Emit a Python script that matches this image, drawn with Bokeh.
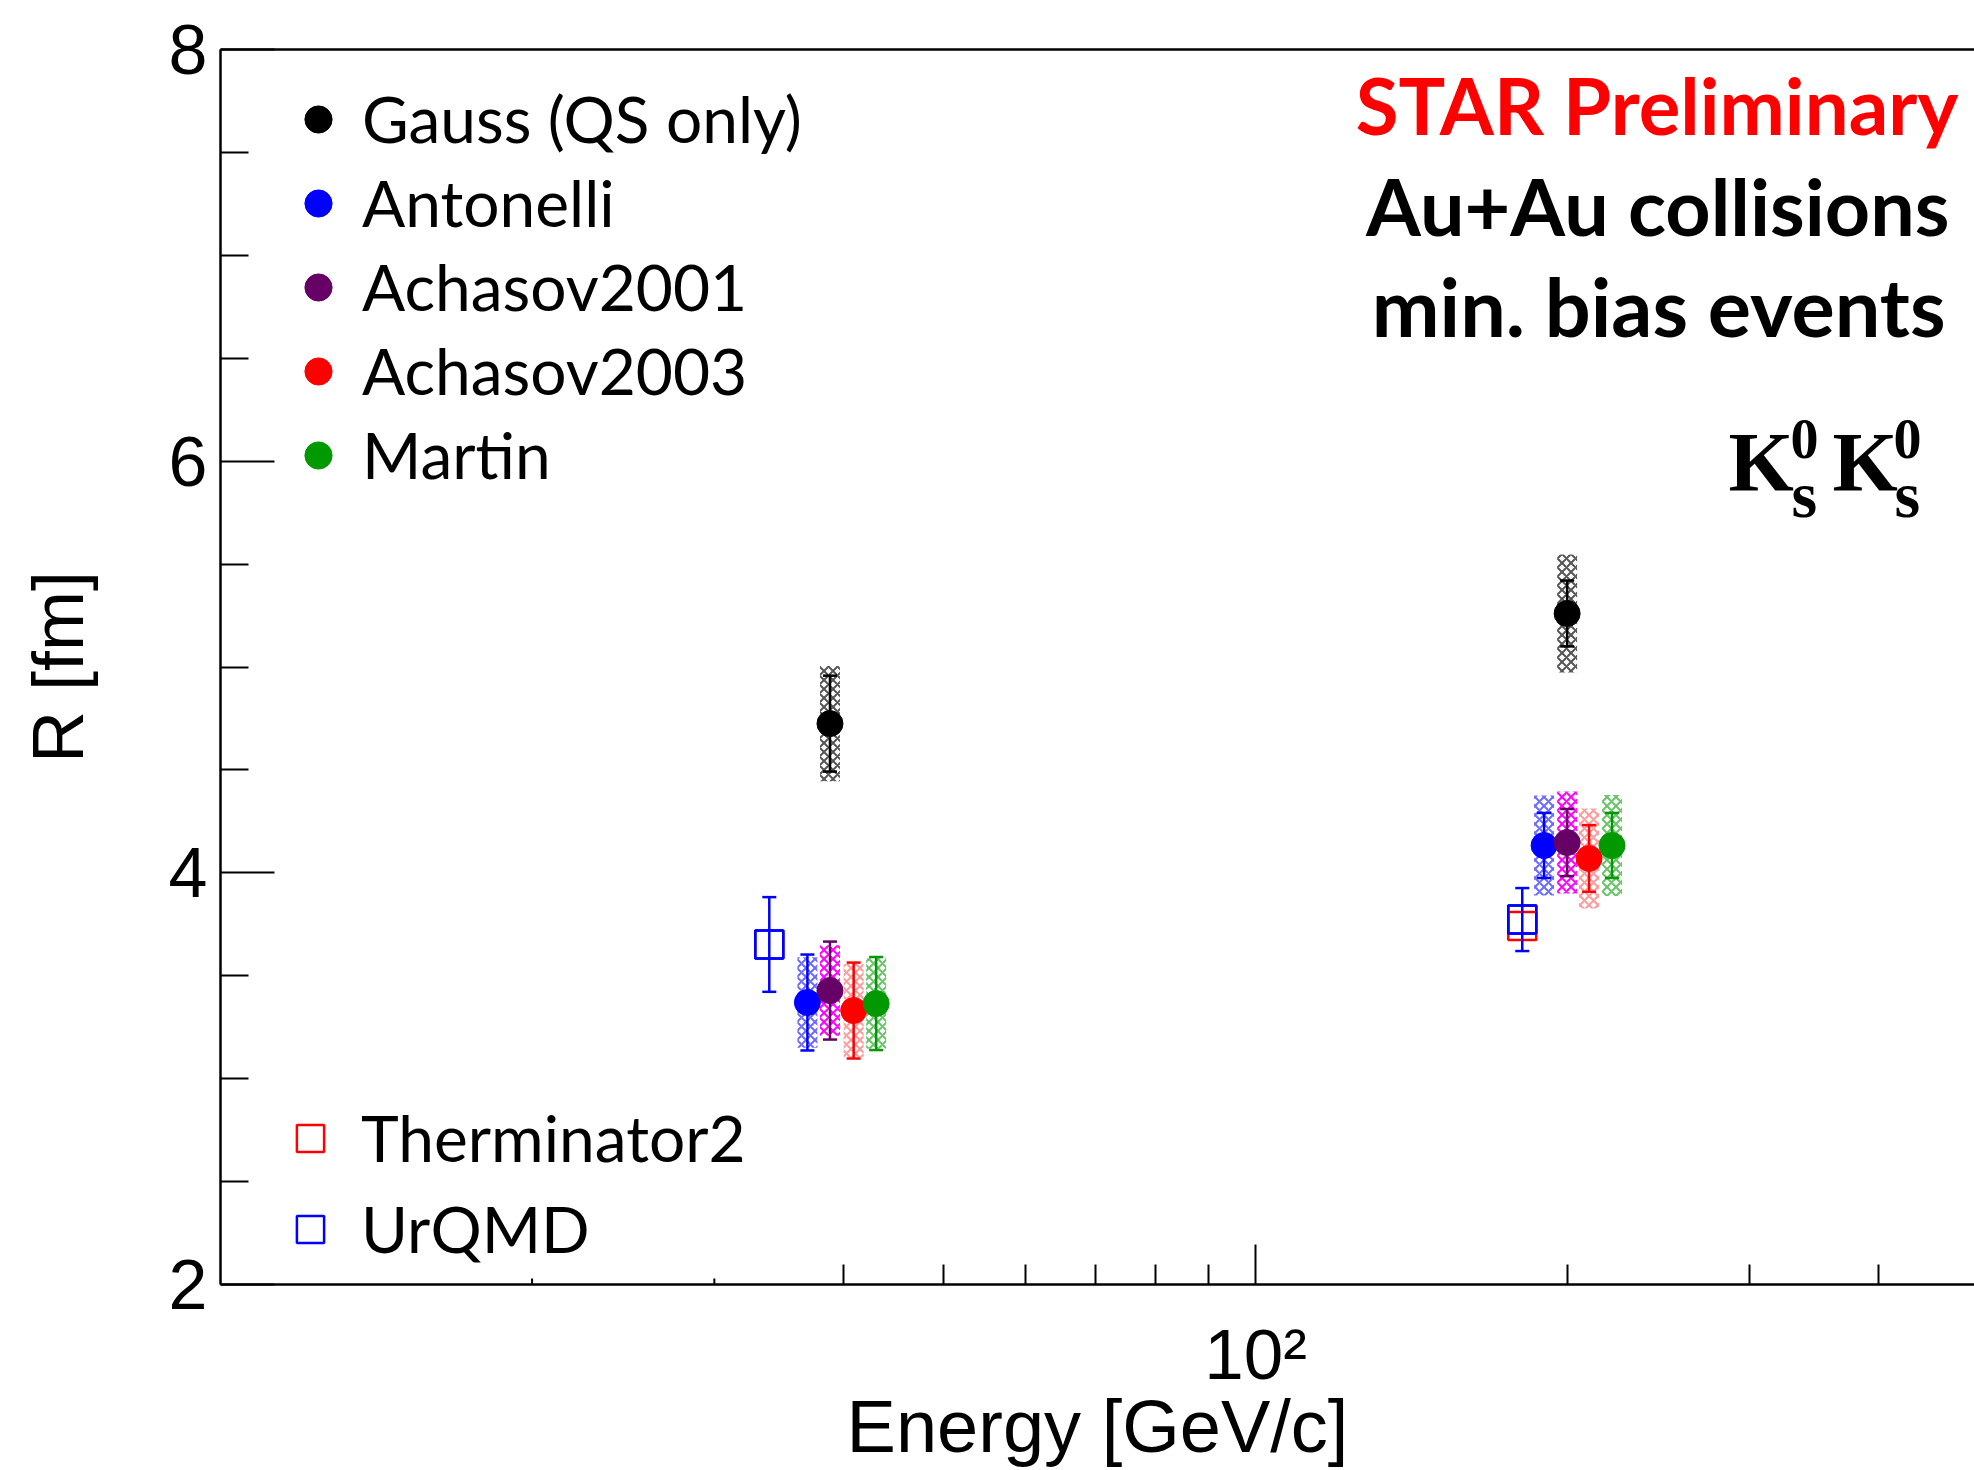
import numpy as np
from bokeh.plotting import figure
from bokeh.models import (ColumnDataSource, Whisker, TeeHead, Legend, LegendItem, Label,
                          FixedTicker, LogAxis, Range1d)
from bokeh.embed import file_html
from bokeh.resources import INLINE

# ---------------- data ----------------
x_ticks = [100]
x_tick_labels = {100: "10²"}
x_minor_ticks = [40, 50, 60, 70, 80, 90, 200, 300, 400]
x_short_ticks = [20, 30]
y_ticks = [2, 4, 6, 8]
y_minor_ticks = [2.5, 3, 3.5, 4.5, 5, 5.5, 6.5, 7, 7.5]

gauss_E = [38.8, 200.0]
gauss_R = [4.725, 5.26]
gauss_stat = [0.233, 0.16]
gauss_sys = [0.28, 0.287]

antonelli_E = [36.9, 190.0]
antonelli_R = [3.37, 4.133]
antonelli_stat = [0.233, 0.158]
antonelli_sys = [0.22, 0.243]

achasov2001_E = [38.8, 200.0]
achasov2001_R = [3.428, 4.147]
achasov2001_stat = [0.238, 0.163]
achasov2001_sys = [0.22, 0.248]

achasov2003_E = [40.9, 210.0]
achasov2003_R = [3.331, 4.07]
achasov2003_stat = [0.233, 0.162]
achasov2003_sys = [0.226, 0.243]

martin_E = [43.0, 221.0]
martin_R = [3.365, 4.133]
martin_stat = [0.226, 0.158]
martin_sys = [0.22, 0.245]

urqmd_E = [33.9, 181.0]
urqmd_R = [3.652, 3.773]
urqmd_err = [0.23, 0.153]

therminator_E = [181.0]
therminator_R = [3.742]

# ---------------- figure ----------------
p = figure(width=1974, height=1470, x_axis_type="log",
           x_range=Range1d(10, 495), y_range=Range1d(2, 8),
           output_backend="svg", toolbar_location=None,
           min_border_left=220, min_border_right=0,
           min_border_top=49, min_border_bottom=186)
p.outline_line_color = None
p.grid.visible = False
p.background_fill_color = "white"
p.border_fill_color = "white"

AX_FONT = "Liberation Sans"

xa = p.xaxis[0]
xa.ticker = FixedTicker(ticks=x_ticks, minor_ticks=x_minor_ticks)
xa.major_label_overrides = x_tick_labels
xa.major_label_text_font = AX_FONT
xa.major_label_text_font_size = "71px"
xa.major_label_text_color = "black"
xa.major_label_standoff = 30
xa.axis_line_width = 2.5
xa.major_tick_in = 40
xa.major_tick_out = 0
xa.minor_tick_in = 20
xa.minor_tick_out = 0
xa.major_tick_line_width = 2
xa.minor_tick_line_width = 2
xa.axis_label = "Energy [GeV/c]"
xa.axis_label_text_font = AX_FONT
xa.axis_label_text_font_size = "74px"
xa.axis_label_text_font_style = "normal"
xa.axis_label_text_color = "black"
xa.axis_label_standoff = -12

ya = p.yaxis[0]
ya.ticker = FixedTicker(ticks=y_ticks, minor_ticks=y_minor_ticks)
ya.axis_line_width = 2.5
ya.major_tick_in = 54
ya.major_tick_out = 0
ya.minor_tick_in = 28
ya.minor_tick_out = 0
ya.major_tick_line_width = 2
ya.minor_tick_line_width = 2
ya.major_label_text_font = AX_FONT
ya.major_label_text_font_size = "70px"
ya.major_label_text_color = "black"
ya.major_label_standoff = 13
ya.axis_label = "R [fm]"
ya.axis_label_text_font = AX_FONT
ya.axis_label_text_font_size = "72px"
ya.axis_label_text_font_style = "normal"
ya.axis_label_text_color = "black"
ya.axis_label_standoff = 68

top = LogAxis(ticker=FixedTicker(ticks=[]), axis_line_width=2.5,
              major_tick_in=0, major_tick_out=0, minor_tick_in=0, minor_tick_out=0,
              major_label_text_font_size="0px")
p.add_layout(top, "above")

# short minor ticks at 20 and 30
p.ray(x=x_short_ticks, y=[y_ticks[0]] * len(x_short_ticks), length=6, length_units="screen",
      angle=90, angle_units="deg", line_color="black", line_width=2)

# ---------------- series ----------------
series = [
    ("Gauss (QS only)", gauss_E, gauss_R, gauss_stat, gauss_sys, "black", "#555555"),
    ("Antonelli", antonelli_E, antonelli_R, antonelli_stat, antonelli_sys, "#0000ff", "#6a6aff"),
    ("Achasov2001", achasov2001_E, achasov2001_R, achasov2001_stat, achasov2001_sys, "#660066", "#ff00ff"),
    ("Achasov2003", achasov2003_E, achasov2003_R, achasov2003_stat, achasov2003_sys, "#ff0000", "#ff9a9a"),
    ("Martin", martin_E, martin_R, martin_stat, martin_sys, "#009900", "#66c466"),
]

for name, E, R, stat, sys, col, hcol in series:
    src = ColumnDataSource(dict(E=np.array(E), R=np.array(R), h=2 * np.array(sys)))
    p.rect(x="E", y="R", width=20, width_units="screen", height="h", source=src,
           fill_color=None, line_color=None, hatch_pattern="diagonal_cross",
           hatch_color=hcol, hatch_scale=9, hatch_weight=2)

legend1_items = []
for name, E, R, stat, sys, col, hcol in series:
    E = np.array(E); R = np.array(R); stat = np.array(stat)
    wsrc = ColumnDataSource(dict(E=E, up=R + stat, lo=R - stat))
    p.add_layout(Whisker(source=wsrc, base="E", upper="up", lower="lo", dimension="height",
                         line_color=col, line_width=2.5, level="glyph",
                         upper_head=TeeHead(size=14, line_color=col, line_width=2.5),
                         lower_head=TeeHead(size=14, line_color=col, line_width=2.5)))
for name, E, R, stat, sys, col, hcol in series:
    msrc = ColumnDataSource(dict(E=E, R=R))
    r = p.scatter("E", "R", source=msrc, marker="circle", size=26,
                  fill_color=col, line_color=col)
    legend1_items.append(LegendItem(label=name, renderers=[r]))

# models
uE = np.array(urqmd_E); uR = np.array(urqmd_R); uErr = np.array(urqmd_err)
usrc = ColumnDataSource(dict(E=uE, R=uR, up=uR + uErr, lo=uR - uErr))
p.add_layout(Whisker(source=usrc, base="E", upper="up", lower="lo", dimension="height",
                     line_color="#0000ff", line_width=2.5, level="glyph",
                     upper_head=TeeHead(size=14, line_color="#0000ff", line_width=2.5),
                     lower_head=TeeHead(size=14, line_color="#0000ff", line_width=2.5)))
p.scatter("E", "R", source=usrc, marker="square", size=28, fill_color="white",
          line_color="#0000ff", line_width=2.5)
tsrc = ColumnDataSource(dict(E=therminator_E, R=therminator_R))
r_therm = p.scatter("E", "R", source=tsrc, marker="square", size=28, fill_color=None,
                    line_color="#ff0000", line_width=2.5)
r_urqmd = p.scatter("E", "R", source=usrc, marker="square", size=28, fill_color=None,
                    line_color="#0000ff", line_width=2.5)

LEG_FONT = "Lato"
leg1 = Legend(items=legend1_items, location=(64, 791), padding=0, margin=0,
              spacing=7, glyph_width=68, glyph_height=76, label_height=76,
              label_standoff=10, label_text_font=LEG_FONT, label_text_font_size="64px",
              label_text_color="black",
              border_line_color=None, background_fill_alpha=0)
leg2 = Legend(items=[LegendItem(label="Therminator2", renderers=[r_therm]),
                     LegendItem(label="UrQMD", renderers=[r_urqmd])],
              location=(56, 17), padding=0, margin=0,
              spacing=14, glyph_width=68, glyph_height=76, label_height=76,
              label_standoff=17, label_text_font=LEG_FONT, label_text_font_size="64px",
              label_text_color="black",
              border_line_color=None, background_fill_alpha=0)
p.add_layout(leg1)
p.add_layout(leg2)

# ---------------- annotations (frame screen units) ----------------
def txt(t, x, y, size, color="black", font=LEG_FONT, style="bold", align="right"):
    p.add_layout(Label(x=x, y=y, x_units="screen", y_units="screen", text=t,
                       text_align=align, text_baseline="alphabetic",
                       text_font=font, text_font_size=size,
                       text_font_style=style, text_color=color))

txt("STAR Preliminary", 1738, 1180, "78px", color="#ff0000")
txt("Au+Au collisions", 1729, 1079, "79px")
txt("min. bias events", 1725, 979, "81px")

SERIF = "Liberation Serif"
txt("K", 1508, 822, "84px", font=SERIF, align="left")
txt("0", 1570, 846, "56px", font=SERIF, align="left")
txt("s", 1571, 790, "66px", font=SERIF, align="left")
txt("K", 1612, 822, "84px", font=SERIF, align="left")
txt("0", 1673, 846, "56px", font=SERIF, align="left")
txt("s", 1674, 790, "66px", font=SERIF, align="left")

open("out.html", "w").write(file_html(p, INLINE))
